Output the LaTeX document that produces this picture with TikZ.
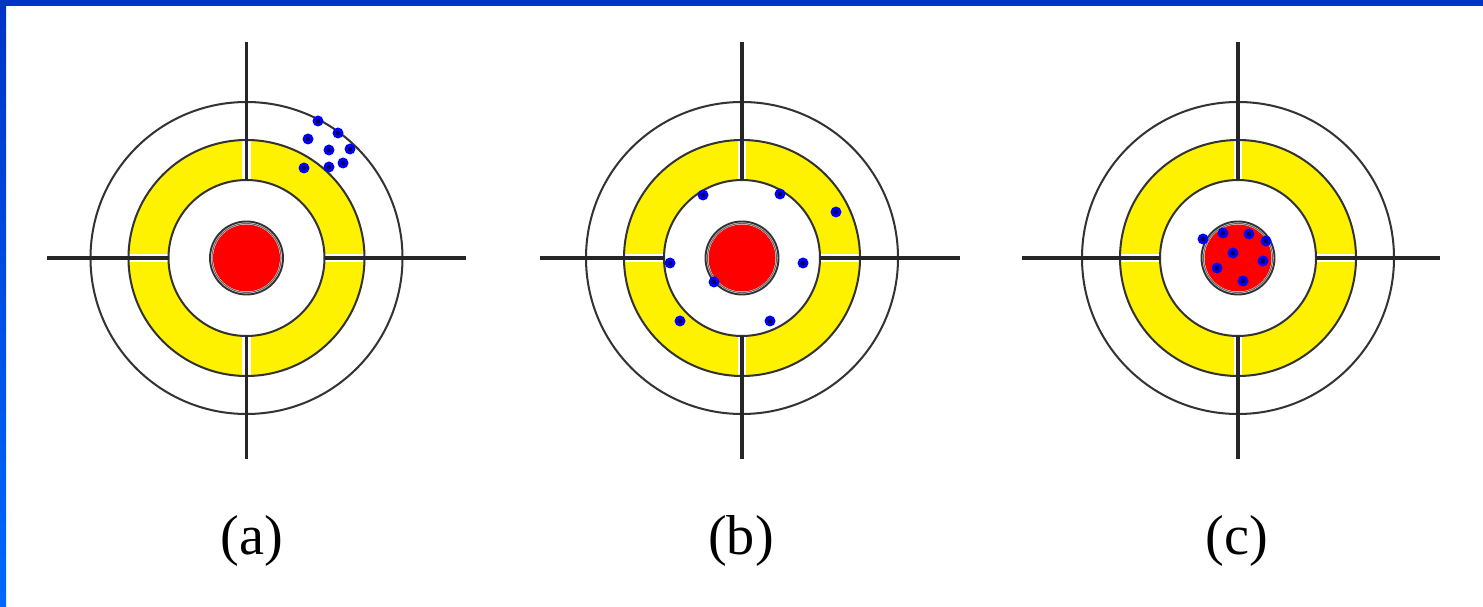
\documentclass[tikz,border=0pt]{standalone}
\usepackage{fontspec}
\setmainfont{Liberation Serif}
\usepackage{tikz}
\usetikzlibrary{positioning}

\definecolor{barblue}{RGB}{0,51,199}
\definecolor{barlight}{RGB}{0,105,255}
\definecolor{shotcore}{RGB}{0,0,90}

\begin{document}
\begin{tikzpicture}[
  x=0.02cm, y=-0.02cm,
  ringline/.style={draw=black!80,line width=1.15pt},
  cross/.style={draw=black!85,line width=1.8pt},
  gapline/.style={draw=white,line width=4.8pt},
  shot/.style={fill=blue},
  lbl/.style={font=\fontsize{32}{38}\selectfont,anchor=base}
]
  \useasboundingbox (0,0) rectangle (1483,607);

  % marco azul
  \fill[barblue] (0,0) rectangle (1483,6);
  \shade[top color=barblue,bottom color=barlight] (0,0) rectangle (6,607);

  % dianas: centro x / extremos de la cruz / etiqueta
  \foreach \cx/\xl/\xr/\lx/\lab in {246.5/47/466/252/a, 742/540/960/741/b, 1238/1022/1440/1237/c}{
    % anillo amarillo
    \fill[yellow,even odd rule] (\cx,258) circle (118) (\cx,258) circle (78);
    \draw[gapline] (\cx,42) -- (\cx,180) (\cx,336) -- (\cx,459)
                   (\xl,258) -- (\cx-78,258) (\cx+78,258) -- (\xr,258);
    % circulos
    \draw[ringline] (\cx,258) circle (156);
    \draw[ringline] (\cx,258) circle (118);
    \draw[ringline] (\cx,258) circle (78);
    % cruz
    \draw[cross] (\cx,42) -- (\cx,180) (\cx,336) -- (\cx,459)
                 (\xl,258) -- (\cx-78,258) (\cx+78,258) -- (\xr,258);
    % centro rojo
    \fill[red] (\cx,258) circle (33.5);
    \draw[black!60,line width=0.6pt] (\cx,258) circle (34.5);
    \draw[black!80,line width=1.1pt] (\cx,258) circle (36.5);
    \node[lbl] (lbl\lab) at (\lx,554) {(\lab)};
  }

  % impactos (a): precisos pero no exactos
  \foreach \p in {(318,121),(338,133),(308,139),(329,150),(350,149),(304,168),(329,167),(343,163)}
    \fill[shot] \p circle (5.5);
  % impactos (b): exactos pero no precisos
  \foreach \p in {(703,195),(780,194),(836,212),(670,263),(803,263),(714,282),(680,321),(770,321)}
    \fill[shot] \p circle (5.5);
  % impactos (c): exactos y precisos
  \foreach \p in {(1203,239),(1223,233),(1249,234),(1266,241),(1233,253),(1263,261),(1217,268),(1243,281)}
    \fill[shot] \p circle (5.5);
  \foreach \p in {(318,121),(338,133),(308,139),(329,150),(350,149),(304,168),(329,167),(343,163),
                  (703,195),(780,194),(836,212),(670,263),(803,263),(714,282),(680,321),(770,321),
                  (1203,239),(1223,233),(1249,234),(1266,241),(1233,253),(1263,261),(1217,268),(1243,281)}
    \fill[shotcore] \p circle (2.3);
\end{tikzpicture}
\end{document}
